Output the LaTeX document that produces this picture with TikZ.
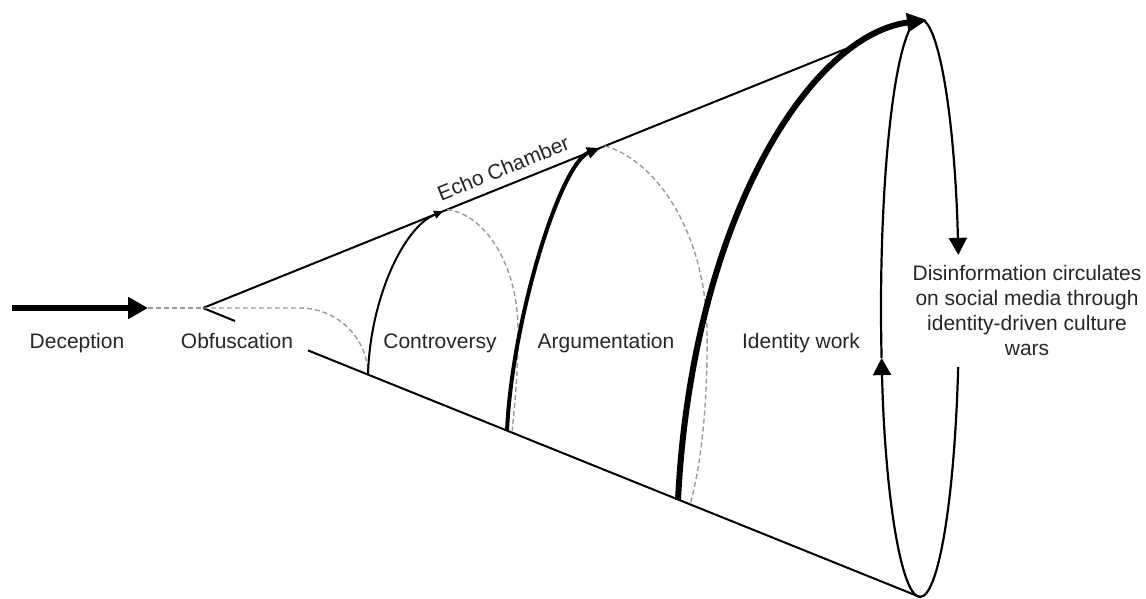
\documentclass[tikz,border=0pt]{standalone}
\usepackage{fontspec}
\setmainfont{Liberation Sans}
\usetikzlibrary{arrows.meta}
\definecolor{txt}{HTML}{262626}
\definecolor{dashgray}{HTML}{9A9A9A}
\begin{document}
\begin{tikzpicture}[x=1pt,y=-1pt,
  stagetxt/.style={font=\fontsize{21}{25}\selectfont, text=txt, inner sep=0pt},
  coneline/.style={line width=2pt, draw=black},
  backpath/.style={draw=dashgray, line width=1.4pt, dash pattern=on 5pt off 3pt},
  thinarc/.style={line width=2pt, -{Triangle[length=9pt,width=8pt]}},
  midarc/.style={line width=4pt, -{Triangle[length=13pt,width=11pt]}},
  thickarc/.style={line width=6pt, -{Triangle[length=20pt,width=18pt]}},
  rim/.style={line width=2.2pt},
  rimtip/.style={-{Triangle[length=17pt,width=18pt]}}]
\useasboundingbox (0,0) rectangle (1146,598);

% key points of the cone
\coordinate (tail)   at (12,308);
\coordinate (feed)   at (148,308);
\coordinate (apex)   at (203,308);
\coordinate (uend)   at (845,49.2);
\coordinate (lstub)  at (235,321);
\coordinate (lstart) at (308,350.4);
\coordinate (rimc)   at (920,308);
\coordinate (rimtop) at (920,19);
\coordinate (rimbot) at (920,597);
\coordinate (rimgap) at (958.2,367);
\coordinate (rimup)  at (881.6,358.2);

% feet and tips of the stage arcs
\coordinate (a1b) at (368,374.7);
\coordinate (a1t) at (443,211.3);
\coordinate (a2b) at (507,430.9);
\coordinate (a2t) at (600,148);
\coordinate (a3b) at (678,500);
\coordinate (a3t) at (927,20);
\coordinate (d2s) at (447,209.6);
\coordinate (d2e) at (512,432.9);
\coordinate (d3s) at (605,146);
\coordinate (d3e) at (690,504.8);

% incoming deception
\draw[line width=6pt, -{Triangle[length=20pt,width=21pt]}] (tail) -- (feed);
\draw[backpath] (feed) -- (apex);

% cone outline
\draw[coneline] (apex) -- (uend);
\draw[coneline] (apex) -- (lstub);
\draw[coneline] (lstart) -- (rimbot);

% dashed return paths
\draw[backpath] (apex) -- (300,308) .. controls (338,308) and (368,339) .. (a1b);
\draw[backpath] (d2s) .. controls (485,214) and (518,265) .. (518,330)
                .. controls (518,380) and (514,410) .. (d2e);
\draw[backpath] (d3s) .. controls (655,160) and (705,230) .. (707,330)
                .. controls (708,410) and (700,470) .. (d3e);

% stage arcs
\draw[thinarc] (a1b) .. controls (370,300) and (403,227.4) .. (a1t);
\draw[midarc] (a2b) .. controls (512,320) and (560,164) .. (a2t);
\draw[thickarc] (a3b) .. controls (692,220) and (810,35) .. (a3t);

% mouth of the cone
\draw[rim, rimtip] (rimtop) arc[start angle=-90, end angle=-10.6, x radius=39, y radius=289];
\draw[rim, rimtip] (rimgap) arc[start angle=11.8, end angle=170, x radius=39, y radius=289];
\draw[rim] (rimup) arc[start angle=170, end angle=270, x radius=39, y radius=289];

% labels
\node[stagetxt, anchor=base] (deception) at (77,348) {Deception};
\node[stagetxt, anchor=base] (obfuscation) at (237,348) {Obfuscation};
\node[stagetxt, anchor=base] (controversy) at (440,348) {Controversy};
\node[stagetxt, anchor=base] (argumentation) at (606,348) {Argumentation};
\node[stagetxt, anchor=base] (identity) at (801,348) {Identity work};
\node[stagetxt, anchor=base, rotate=21.96] (echo) at (506,175) {Echo Chamber};
\node[stagetxt, anchor=north, align=center] (outcome) at (1027,265)
  {Disinformation circulates\\on social media through\\identity-driven culture\\wars};
\end{tikzpicture}
\end{document}
